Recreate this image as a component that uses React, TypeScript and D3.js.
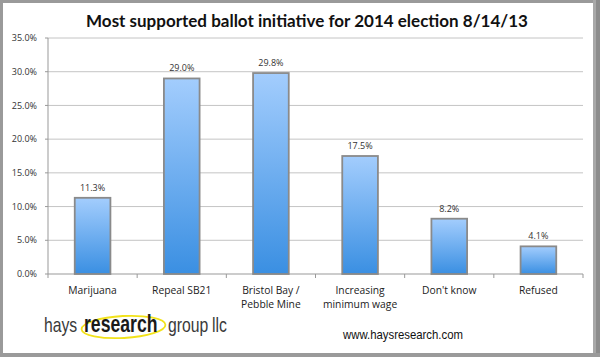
import React from "react";
import * as d3 from "d3";

const categories: string[][] = [
  ["Marijuana"],
  ["Repeal SB21"],
  ["Bristol Bay /", "Pebble Mine"],
  ["Increasing", "minimum wage"],
  ["Don't know"],
  ["Refused"],
];
const values: number[] = [11.3, 29.0, 29.8, 17.5, 8.2, 4.1];
const yTicks: number[] = [0, 5, 10, 15, 20, 25, 30, 35];
const title = "Most supported ballot initiative for 2014 election 8/14/13";

const W = 600;
const H = 357;
const plot = { left: 48, right: 583, top: 38, bottom: 274 };

export default function App() {
  const x = d3
    .scaleBand<number>()
    .domain(values.map((_, i) => i))
    .range([plot.left, plot.right])
    .paddingInner(0.6)
    .paddingOuter(0.3);
  const band = d3.scaleBand<number>().domain(values.map((_, i) => i)).range([plot.left, plot.right]);
  const y = d3.scaleLinear().domain([0, 35]).range([plot.bottom, plot.top]);
  const fmt = (v: number) => v.toFixed(1) + "%";
  const logoFont = "'Liberation Sans', Arial, sans-serif";

  return (
    <svg width={W} height={H} style={{ position: "absolute", left: 0, top: 0 }}>
      <defs>
        <linearGradient id="barGrad" x1="0" y1="0" x2="0" y2="1">
          <stop offset="0%" stopColor="#a3cdfd" />
          <stop offset="100%" stopColor="#3a8fe2" />
        </linearGradient>
      </defs>
      <rect x={0} y={0} width={W} height={H} fill="#ffffff" />
      {/* frame */}
      <rect x={0} y={0} width={W} height={3} fill="#9a9a9a" />
      <rect x={0} y={0} width={3} height={H} fill="#9a9a9a" />
      <rect x={593} y={0} width={7} height={H} fill="#a8a8a8" />
      <rect x={596} y={0} width={4} height={H} fill="#8c8c8c" />
      <rect x={0} y={353} width={W} height={4} fill="#9a9a9a" />

      <text
        x={307}
        y={27}
        textAnchor="middle"
        fontFamily="Lato, 'Open Sans', sans-serif"
        fontWeight="bold"
        fontSize={17}
        fill="#111"
      >
        {title}
      </text>

      {yTicks.map((t) => (
        <g key={t}>
          {t > 0 && (
            <line x1={plot.left} x2={plot.right} y1={y(t)} y2={y(t)} stroke="#c4c4c4" strokeWidth={1} />
          )}
          <line x1={plot.left - 3} x2={plot.left} y1={y(t)} y2={y(t)} stroke="#999" />
          <text
            x={37}
            y={y(t)}
            dy="0.35em"
            textAnchor="end"
            fontFamily="'Open Sans', sans-serif"
            fontSize={9}
            fill="#333"
          >
            {fmt(t)}
          </text>
        </g>
      ))}
      <line x1={plot.left} x2={plot.left} y1={plot.top} y2={plot.bottom} stroke="#999" />
      <line x1={plot.left} x2={plot.right} y1={plot.bottom} y2={plot.bottom} stroke="#999" />
      {values.map((_, i) => (
        <line
          key={"t" + i}
          x1={band(i)!}
          x2={band(i)!}
          y1={plot.bottom}
          y2={plot.bottom + 4}
          stroke="#999"
        />
      ))}
      <line x1={plot.right} x2={plot.right} y1={plot.bottom} y2={plot.bottom + 4} stroke="#999" />

      {values.map((v, i) => (
        <g key={i}>
          <rect
            x={x(i)!}
            y={y(v)}
            width={x.bandwidth()}
            height={plot.bottom - y(v)}
            fill="url(#barGrad)"
            stroke="#8a8a8a"
            strokeWidth={1.8}
          />
          <text
            x={x(i)! + x.bandwidth() / 2}
            y={y(v) - 7}
            textAnchor="middle"
            fontFamily="'Open Sans', sans-serif"
            fontSize={9}
            fill="#333"
          >
            {fmt(v)}
          </text>
          {categories[i].map((line, k) => (
            <text
              key={k}
              x={band(i)! + band.bandwidth() / 2}
              y={294 + k * 14}
              textAnchor="middle"
              fontFamily="'Open Sans', sans-serif"
              fontSize={10.3}
              fill="#222"
            >
              {line}
            </text>
          ))}
        </g>
      ))}

      {/* logo */}
      <ellipse
        cx={123.5}
        cy={327}
        rx={42}
        ry={11}
        fill="none"
        stroke="#f2e21a"
        strokeWidth={1.8}
        transform="rotate(-3 123.5 327)"
      />
      <g transform="translate(44 332) scale(0.75 1)">
        <text x={0} y={0} fontFamily={logoFont} fontSize={21} fill="#3a3a3a">
          <tspan x={0}>hays</tspan>
          <tspan x={53.3} fontWeight="bold" fontSize={23.5} fill="#1a1a1a">
            research
          </tspan>
          <tspan x={165.3}>group</tspan>
          <tspan x={224}>llc</tspan>
        </text>
      </g>
      <text
        x={343}
        y={339}
        fontFamily={logoFont}
        fontSize={13}
        fill="#111"
        textLength={120}
        lengthAdjust="spacingAndGlyphs"
      >
        www.haysresearch.com
      </text>
    </svg>
  );
}
